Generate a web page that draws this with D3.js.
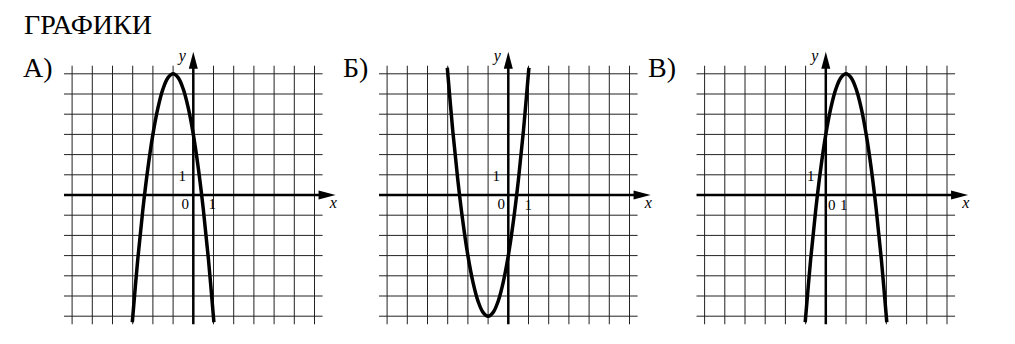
<!DOCTYPE html>
<html>
<head>
<meta charset="utf-8">
<script src="https://cdn.jsdelivr.net/npm/d3@7"></script>
</head>
<body style="margin:0">
<script>
// title and panel names
var title = "ГРАФИКИ";
var panelNames = ["А)", "Б)", "В)"];

// grid lines, in units
var gridTicks = [-6, -5, -4, -3, -2, -1, 1, 2, 3, 4, 5, 6];

// curve points (x, y)
var curveA_x = [-3.02, -2.75, -2.5, -2.25, -2, -1.75, -1.5, -1.25, -1, -0.75, -0.5, -0.25, 0, 0.25, 0.5, 0.75, 1.02];
var curveA_y = [-6.3, -3.19, -0.75, 1.31, 3, 4.31, 5.25, 5.81, 6, 5.81, 5.25, 4.31, 3, 1.31, -0.75, -3.19, -6.3];

var curveB_x = [-3.02, -2.75, -2.5, -2.25, -2, -1.75, -1.5, -1.25, -1, -0.75, -0.5, -0.25, 0, 0.25, 0.5, 0.75, 1.02];
var curveB_y = [6.3, 3.19, 0.75, -1.31, -3, -4.31, -5.25, -5.81, -6, -5.81, -5.25, -4.31, -3, -1.31, 0.75, 3.19, 6.3];

var curveC_x = [-1.02, -0.75, -0.5, -0.25, 0, 0.25, 0.5, 0.75, 1, 1.25, 1.5, 1.75, 2, 2.25, 2.5, 2.75, 3.02];
var curveC_y = [-6.3, -3.19, -0.75, 1.31, 3, 4.31, 5.25, 5.81, 6, 5.81, 5.25, 4.31, 3, 1.31, -0.75, -3.19, -6.3];

var curvesX = [curveA_x, curveB_x, curveC_x];
var curvesY = [curveA_y, curveB_y, curveC_y];

// layout
var svgWidth = 1015, svgHeight = 344;
var cell = 20.2;
var extent = 6.4;
var axisY = 195;
var axisXs = [193.3, 508.3, 825.8];
var nameXs = [23, 343, 648];
var serif = "'Liberation Serif'";
// pixel offsets of the small labels from the origin: [dx, dy]
var labelOffsets = [
  { y1: [-11, -14], zero: [-8, 14], x1: [19, 14] },
  { y1: [-12, -14], zero: [-7, 14], x1: [20, 15] },
  { y1: [-15, -14], zero: [6, 15], x1: [18, 15] }
];

var svg = d3.select("body")
  .append("svg")
  .attr("width", svgWidth)
  .attr("height", svgHeight);

svg.append("text")
  .attr("class", "lbl")
  .attr("x", 24)
  .attr("y", 34)
  .attr("font-size", 28)
  .text(title);

panelNames.forEach(function(name, i) {
  var cx = axisXs[i];

  var xScale = d3.scaleLinear()
    .domain([-extent, extent])
    .range([cx - extent * cell, cx + extent * cell]);

  var yScale = d3.scaleLinear()
    .domain([-extent, extent])
    .range([axisY + extent * cell, axisY - extent * cell]);

  var g = svg.append("g");

  svg.append("text")
    .attr("class", "lbl")
    .attr("x", nameXs[i])
    .attr("y", 77)
    .attr("font-size", 28)
    .text(name);

  // grid
  g.selectAll(".vgrid")
    .data(gridTicks)
    .enter()
    .append("line")
    .attr("x1", d => xScale(d))
    .attr("x2", d => xScale(d))
    .attr("y1", yScale(extent))
    .attr("y2", yScale(-extent))
    .attr("stroke", "#222")
    .attr("stroke-width", 1);

  g.selectAll(".hgrid")
    .data(gridTicks)
    .enter()
    .append("line")
    .attr("y1", d => yScale(d))
    .attr("y2", d => yScale(d))
    .attr("x1", xScale(-extent))
    .attr("x2", xScale(extent))
    .attr("stroke", "#222")
    .attr("stroke-width", 1);

  // axes
  var x0 = xScale(0), y0 = yScale(0);
  g.append("line")
    .attr("x1", xScale(-extent))
    .attr("x2", xScale(extent) + 2)
    .attr("y1", y0)
    .attr("y2", y0)
    .attr("stroke", "#000")
    .attr("stroke-width", 2.5);

  g.append("line")
    .attr("x1", x0)
    .attr("x2", x0)
    .attr("y1", yScale(-extent))
    .attr("y2", yScale(extent) - 2)
    .attr("stroke", "#000")
    .attr("stroke-width", 2.5);

  // arrow heads
  var xEnd = xScale(extent) + 13;
  g.append("path")
    .attr("d", `M${xEnd},${y0} L${xEnd - 17},${y0 - 4.5} L${xEnd - 17},${y0 + 4.5} Z`)
    .attr("fill", "#000");

  var yEnd = yScale(extent) - 14;
  g.append("path")
    .attr("d", `M${x0},${yEnd} L${x0 - 4.5},${yEnd + 17} L${x0 + 4.5},${yEnd + 17} Z`)
    .attr("fill", "#000");

  // axis names
  g.append("text")
    .attr("class", "lbl")
    .attr("x", x0 + 140)
    .attr("y", y0 + 13)
    .attr("font-size", 16)
    .attr("font-style", "italic")
    .attr("text-anchor", "middle")
    .text("x");

  g.append("text")
    .attr("class", "lbl")
    .attr("x", x0 - 11)
    .attr("y", 61)
    .attr("font-size", 16)
    .attr("font-style", "italic")
    .attr("text-anchor", "middle")
    .text("y");

  // unit labels
  var off = labelOffsets[i];
  [["1", off.y1], ["0", off.zero], ["1", off.x1]].forEach(function(l) {
    g.append("text")
      .attr("class", "lbl")
      .attr("x", x0 + l[1][0])
      .attr("y", y0 + l[1][1])
      .attr("font-size", 15)
      .attr("text-anchor", "middle")
      .text(l[0]);
  });

  // curve
  var pts = curvesX[i].map((d, k) => [d, curvesY[i][k]]);
  var line = d3.line()
    .x(d => xScale(d[0]))
    .y(d => yScale(d[1]))
    .curve(d3.curveCatmullRom.alpha(0.5));

  g.append("path")
    .attr("d", line(pts))
    .attr("fill", "none")
    .attr("stroke", "#000")
    .attr("stroke-width", 3.5);
});

// set the serif face on every label, and again once fonts are ready
function applyFont() {
  svg.selectAll("text.lbl")
    .attr("font-family", serif)
    .style("font-family", serif);
}
applyFont();

// warm-up glyph in a second family (invisible)
svg.append("text")
  .attr("x", 1005)
  .attr("y", 340)
  .attr("font-size", 2)
  .attr("fill", "#fff")
  .attr("fill-opacity", 0)
  .style("font-family", "'Liberation Mono'")
  .text(".");

if (document.fonts && document.fonts.ready) {
  document.fonts.ready.then(applyFont);
}
requestAnimationFrame(applyFont);
</script>
</body>
</html>
